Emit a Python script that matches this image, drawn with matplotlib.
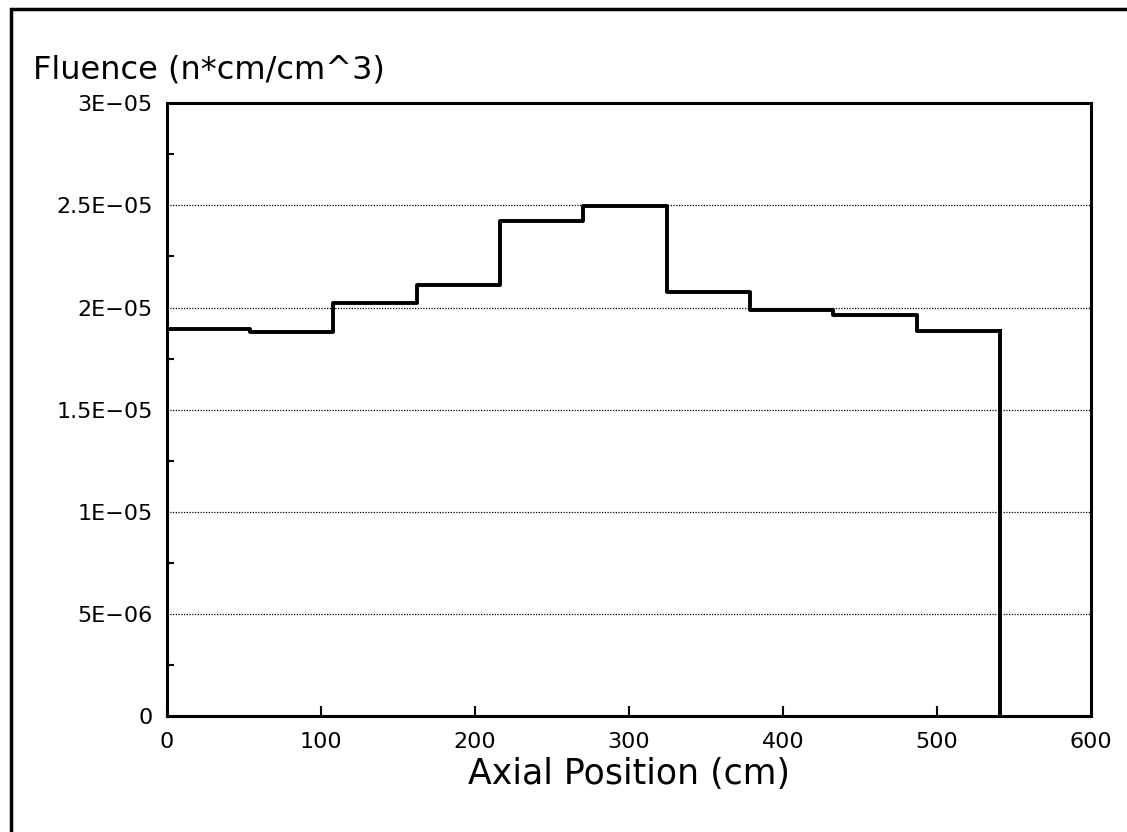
# -*- coding: utf-8 -*-
# fluence step profile along the axial position
import numpy as np
import matplotlib
matplotlib.use("Agg")
from matplotlib import pyplot as plt
from matplotlib.patches import Rectangle

# segment edges (cm) and fluence per segment
edges = [0, 54.1, 108.2, 162.3, 216.4, 270.5, 324.6, 378.7, 432.8, 486.9, 541.0]
fluence = [1.893e-5, 1.878e-5, 2.023e-5, 2.110e-5, 2.424e-5,
           2.496e-5, 2.074e-5, 1.987e-5, 1.966e-5, 1.884e-5]

yticks = [0, 5e-6, 1e-5, 1.5e-5, 2e-5, 2.5e-5, 3e-5]
ylabels = ["0", "5E\u221206", "1E\u221205", "1.5E\u221205", "2E\u221205", "2.5E\u221205", "3E\u221205"]
xticks = [0, 100, 200, 300, 400, 500, 600]

plt.rcParams['font.family'] = ['DejaVu Sans']

fig = plt.figure(figsize=(11.27, 8.32), dpi=100)
ax = fig.add_axes([0.148, 0.139, 0.82, 0.737])

# step line, dropping to zero at the end
xs = list(edges)
ys = list(fluence) + [fluence[-1]]
ax.step(xs, ys, where='post', color='black', lw=2.8)
ax.plot([edges[-1], edges[-1]], [fluence[-1], 0], color='black', lw=2.8)

ax.set_xlim(0, 600)
ax.set_ylim(0, 3e-5)
ax.set_yticks(yticks)
ax.set_yticklabels(ylabels, fontsize=16)
ax.set_yticks([2.5e-6, 7.5e-6, 1.25e-5, 1.75e-5, 2.25e-5, 2.75e-5], minor=True)
ax.set_xticks(xticks)
ax.set_xticklabels([str(v) for v in xticks], fontsize=16)

ax.tick_params(axis='both', which='major', direction='in', length=7, width=1.5, pad=11)
ax.tick_params(axis='y', which='minor', direction='in', length=5, width=1.5)
ax.tick_params(axis='y', which='major', length=0, pad=10)

for s in ax.spines.values():
    s.set_linewidth(2.2)

ax.grid(axis='y', which='major', color='black', linestyle=(0, (1, 1.2)), lw=0.9)

ax.set_xlabel("Axial Position (cm)", fontsize=25, labelpad=4)
fig.text(0.029, 0.906, "Fluence (n*cm/cm^3)", fontsize=23, ha='left', va='baseline')

# outer frame
fig.patches.append(Rectangle((0.010, -0.02), 0.995, 1.009, transform=fig.transFigure,
                             fill=False, lw=2.5, edgecolor='black'))

fig.savefig("out.png", dpi=100)
